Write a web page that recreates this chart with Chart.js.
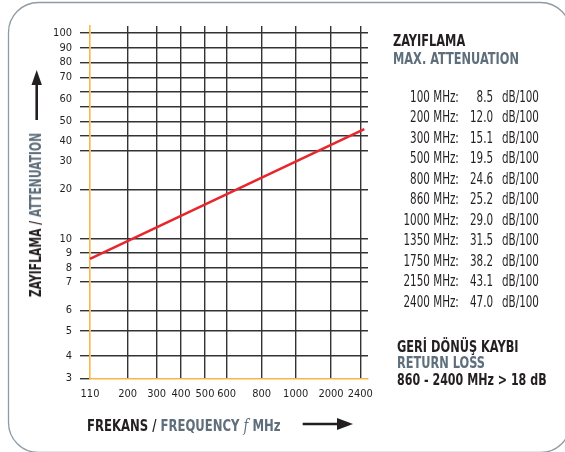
<!DOCTYPE html>
<html>
<head>
<meta charset="utf-8">
<script src="https://cdn.jsdelivr.net/npm/chart.js@4.4.1/dist/chart.umd.min.js"></script>
<style>
  body { margin: 0; background: #fff; }
  #wrap { position: relative; width: 565px; height: 452px; overflow: hidden;
          font-family: 'DejaVu Sans Condensed', 'DejaVu Sans', sans-serif; color: #231f20; }
  canvas { position: absolute; left: 0; top: 0; }
  .t { position: absolute; white-space: nowrap; line-height: 1; transform-origin: 0 0; }
  .b { font-weight: bold; }
  .g { color: #5e6e7b; }
  .col { position: absolute; top: 86.5px; font-size: 16px; line-height: 20.56px; white-space: nowrap; }
  .col div { height: 20.56px; }
  .cr { text-align: right; transform: scaleX(.72); transform-origin: 100% 0; }
  .cl { transform: scaleX(.72); transform-origin: 0 0; }
</style>
</head>
<body>
<div id="wrap">
  <svg width="565" height="452" style="position:absolute;left:0;top:0">
    <rect x="8.5" y="2.5" width="562" height="450" rx="30" ry="30" fill="none" stroke="#8e9ba5" stroke-width="1.3"/>
    <line x1="36.7" y1="84" x2="36.7" y2="120" stroke="#231f20" stroke-width="2.6"/>
    <polygon points="36.7,70 31.5,85 41.9,85" fill="#231f20"/>
    <line x1="302.7" y1="424" x2="339" y2="424" stroke="#231f20" stroke-width="2.6"/>
    <polygon points="353,424 337,418 337,430" fill="#231f20"/>
  </svg>
  <canvas id="chart" width="565" height="452"></canvas>

  <div class="t b" style="left:36px;top:214.5px;font-size:16px;transform-origin:50% 50%;transform:translate(-50%,-50%) rotate(-90deg) scaleX(.75)">ZAYIFLAMA / <span class="g">ATTENUATION</span></div>
  <div class="t b" style="left:87px;top:418.1px;font-size:16px;transform:scaleX(.81)">FREKANS / <span class="g">FREQUENCY <i style="font-family:'DejaVu Serif',serif;font-weight:normal">f</i> MHz</span></div>

  <div class="t b" style="left:392.7px;top:33.2px;font-size:16px;transform:scaleX(.79)">ZAYIFLAMA</div>
  <div class="t b g" style="left:392.7px;top:51.2px;font-size:16px;transform:scaleX(.79)">MAX. ATTENUATION</div>
  <div class="col cr" id="colF" style="right:106px"></div>
  <div class="col cr" id="colV" style="right:71.7px"></div>
  <div class="col cl" id="colU" style="left:501.7px"></div>
  <div class="t b" style="left:396.7px;top:338.8px;font-size:16px;transform:scaleX(.79)">GERİ DÖNÜŞ KAYBI</div>
  <div class="t b g" style="left:396.7px;top:355.4px;font-size:16px;transform:scaleX(.79)">RETURN LOSS</div>
  <div class="t b" id="rl" style="left:396.7px;top:372.4px;font-size:16px;transform:scaleX(.77)"></div>
</div>
<script>
// attenuation curve as printed on the graph (MHz, dB/100)
const lineFreq = [110, 2556];
const lineAtt = [8.6, 46];

// axis tick labels
const xTicks = [110, 200, 300, 400, 500, 600, 800, 1000, 2000, 2400];
const yTicks = [3, 4, 5, 6, 7, 8, 9, 10, 20, 30, 40, 50, 60, 70, 80, 90, 100];
const yNoLine = [3, 30, 40, 60];            // labels that have no grid line
const yLineOnly = [35.1, 42.7, 56.5, 63.2]; // unlabeled grid lines

// max attenuation table
const tableFreq = [100, 200, 300, 500, 800, 860, 1000, 1350, 1750, 2150, 2400];
const tableAtt = ['8.5', '12.0', '15.1', '19.5', '24.6', '25.2', '29.0', '31.5', '38.2', '43.1', '47.0'];
const returnLoss = { from: 860, to: 2400, db: 18 };

// the printed axes are not evenly logarithmic, so each scale maps values
// through a table of (value, fraction of axis length)
const knots = {
  x: { val: [110, 200, 300, 400, 500, 600, 800, 1000, 2000, 2400, 2700],
       pos: [0, .1356, .2399, .3273, .4137, .4917, .6176, .7399, .8669, .9723, 1] },
  y: { val: [3, 4, 5, 6, 7, 8, 9, 10, 20, 30, 40, 50, 60, 70, 80, 90, 100, 115],
       pos: [0, .0642, .1351, .1930, .2742, .3139, .3557, .3962, .5365, .6168, .6736, .7295, .7928, .8544, .8970, .9384, .9810, 1] }
};

const tickSets = {
  x: xTicks.map((v, i) => ({ value: v, lab: String(v), line: i > 0, mark: false })),
  y: yTicks.map(v => ({ value: v, lab: String(v), line: !yNoLine.includes(v), mark: v === 3 || !yNoLine.includes(v) }))
    .concat(yLineOnly.map(v => ({ value: v, lab: '', line: true, mark: true })))
    .sort((a, b) => a.value - b.value)
};

class KnotScale extends Chart.LinearScale {
  determineDataLimits() {
    const v = knots[this.id].val;
    this.min = v[0];
    this.max = v[v.length - 1];
  }
  buildTicks() {
    return tickSets[this.id].map(t => Object.assign({}, t));
  }
  getPixelForValue(value) {
    const { val, pos } = knots[this.id];
    let i = 1;
    while (i < val.length - 1 && value > val[i]) i++;
    const f = pos[i - 1] + (value - val[i - 1]) / (val[i] - val[i - 1]) * (pos[i] - pos[i - 1]);
    return this.getPixelForDecimal(f);
  }
  getValueForPixel(pixel) {
    const { val, pos } = knots[this.id];
    const f = this.getDecimalForPixel(pixel);
    let i = 1;
    while (i < pos.length - 1 && f > pos[i]) i++;
    return val[i - 1] + (f - pos[i - 1]) / (pos[i] - pos[i - 1]) * (val[i] - val[i - 1]);
  }
}
KnotScale.id = 'knot';
Chart.register(KnotScale);

const font = { family: "'DejaVu Sans Condensed', 'DejaVu Sans', sans-serif", size: 11 };
const gridColor = '#333';
const orange = '#f8b54a';

new Chart(document.getElementById('chart'), {
  type: 'line',
  data: {
    datasets: [{
      data: lineFreq.map((f, i) => ({ x: f, y: lineAtt[i] })),
      borderColor: '#e8262d',
      borderWidth: 2.6,
      pointRadius: 0,
      tension: 0
    }]
  },
  options: {
    responsive: false,
    animation: false,
    events: [],
    layout: { padding: { left: 0, top: 26, right: 197, bottom: 0 } },
    plugins: { legend: { display: false }, tooltip: { enabled: false } },
    scales: {
      x: {
        type: 'knot',
        afterFit: s => { s.height = 452 - 378.3; },
        grid: {
          color: c => (c.tick && c.tick.line) ? gridColor : 'transparent',
          lineWidth: 1.4,
          drawTicks: false
        },
        border: { color: orange, width: 1.6 },
        ticks: {
          autoSkip: false, maxRotation: 0, padding: 9, font: font, color: '#231f20',
          callback: (v, i, t) => t[i].lab
        }
      },
      y: {
        type: 'knot',
        afterFit: s => { s.width = 90; },
        grid: {
          color: c => (c.tick && c.tick.line) ? gridColor : 'transparent',
          tickColor: c => (c.tick && c.tick.mark) ? gridColor : 'transparent',
          lineWidth: 1.4,
          tickLength: 10
        },
        border: { color: orange, width: 1.6 },
        ticks: {
          autoSkip: false, padding: 8, font: font, color: '#231f20',
          callback: (v, i, t) => t[i].lab
        }
      }
    }
  }
});

document.getElementById('colF').innerHTML = tableFreq.map(f => '<div>' + f + ' MHz:</div>').join('');
document.getElementById('colV').innerHTML = tableAtt.map(a => '<div>' + a + '</div>').join('');
document.getElementById('colU').innerHTML = tableFreq.map(() => '<div>dB/100</div>').join('');
document.getElementById('rl').textContent =
  returnLoss.from + ' - ' + returnLoss.to + ' MHz > ' + returnLoss.db + ' dB';
</script>
</body>
</html>
